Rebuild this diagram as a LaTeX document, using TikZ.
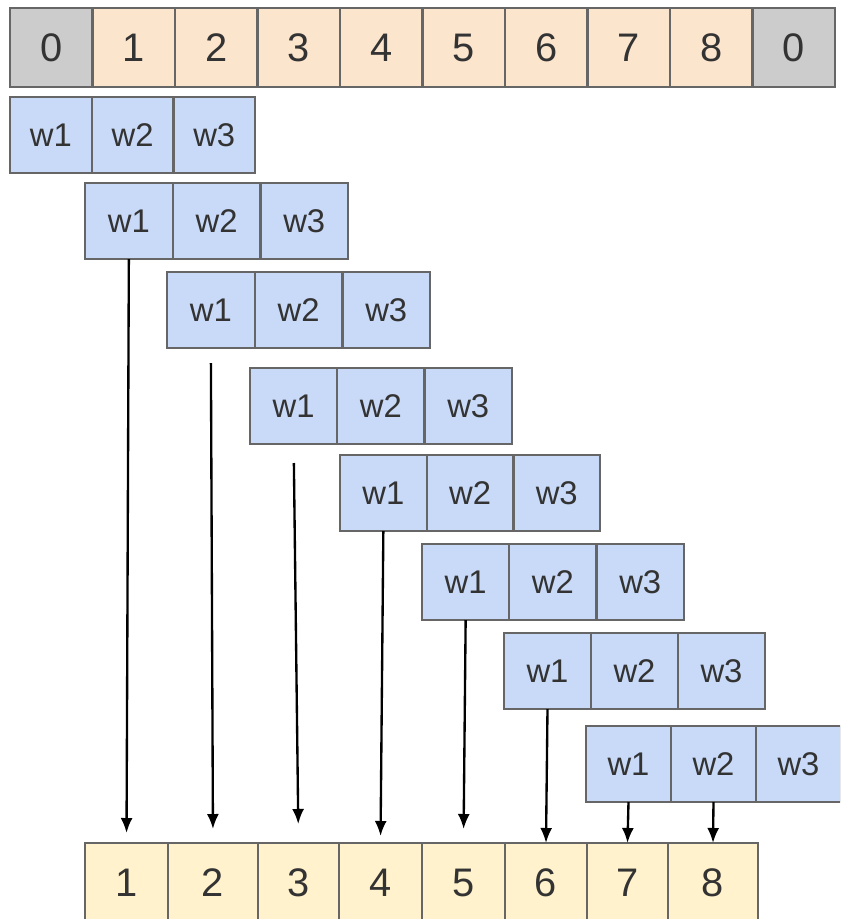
\documentclass[tikz,border=0pt]{standalone}
\usepackage{fontspec}
\setmainfont{Liberation Sans}
\usetikzlibrary{arrows.meta}

\definecolor{padgray}{HTML}{CCCCCC}
\definecolor{inpeach}{HTML}{FCE5CD}
\definecolor{wblue}{HTML}{C9DAF8}
\definecolor{outyellow}{HTML}{FFF2CC}
\definecolor{edgegray}{HTML}{666666}
\definecolor{txtgray}{HTML}{333333}

\begin{document}
\begin{tikzpicture}[x=0.3mm, y=-0.3mm,
    cell/.style={draw=edgegray, line width=2pt, anchor=north west, inner sep=0pt, outer sep=0pt,
      minimum width=24.75mm, minimum height=23.7mm, text=txtgray, font=\fontsize{34}{40}\selectfont},
    wcell/.style={cell, fill=wblue, minimum height=22.8mm, font=\fontsize{28}{32}\selectfont},
    arr/.style={line width=2pt, -{Latex[length=4.5mm, width=3.6mm]}}]
    \useasboundingbox (0, 0) rectangle (840, 919);
    \clip (0, 0) rectangle (840, 919);
    % input, padded with zeros
    \node[cell, fill=padgray] (in0) at (10, 8) {0};
    \foreach \i in {1,...,8}
        \node[cell, fill=inpeach] (in\i) at ({10+82.5*\i}, 8) {\i};
    \node[cell, fill=padgray] (in9) at (752.5, 8) {0};
    % kernel sliding along
    \foreach \k/\x/\y/\w in {1/10/97/81.7, 2/85/183/87.7, 3/167/272/87.7, 4/250/368/87.3,
                             5/340/455/86.7, 6/422/544/87.3, 7/504/633/87, 8/586/726/85}
        \foreach \j in {1,2,3}
            \node[wcell, minimum width=\w*0.3mm] (k\k-\j) at ({\x+\w*(\j-1)}, \y) {w\j};
    % output
    \foreach \i/\x/\w in {1/85/83, 2/168/90, 3/258/81, 4/339/83, 5/422/83, 6/505/82, 7/587/81, 8/668/90}
        \node[cell, fill=outyellow, minimum width=\w*0.3mm] (out\i) at (\x, 843) {\i};
    \draw[arr, shorten >=3mm] (k2-1.south) -- (out1.north);
    \draw[arr, shorten <=4.5mm, shorten >=4.2mm] (k3-1.south) -- (out2.north);
    \draw[arr, shorten <=5.7mm, shorten >=5.7mm] (k4-1.south) -- (out3.north);
    \draw[arr, shorten >=2.1mm] (k5-1.south) -- (out4.north);
    \draw[arr, shorten >=4.2mm] (k6-1.south) -- (out5.north);
    \draw[arr] (k7-1.south) -- (out6.north);
    \draw[arr] (k8-1.south) -- (out7.north);
    \draw[arr] (k8-2.south) -- (out8.north);
\end{tikzpicture}
\end{document}
